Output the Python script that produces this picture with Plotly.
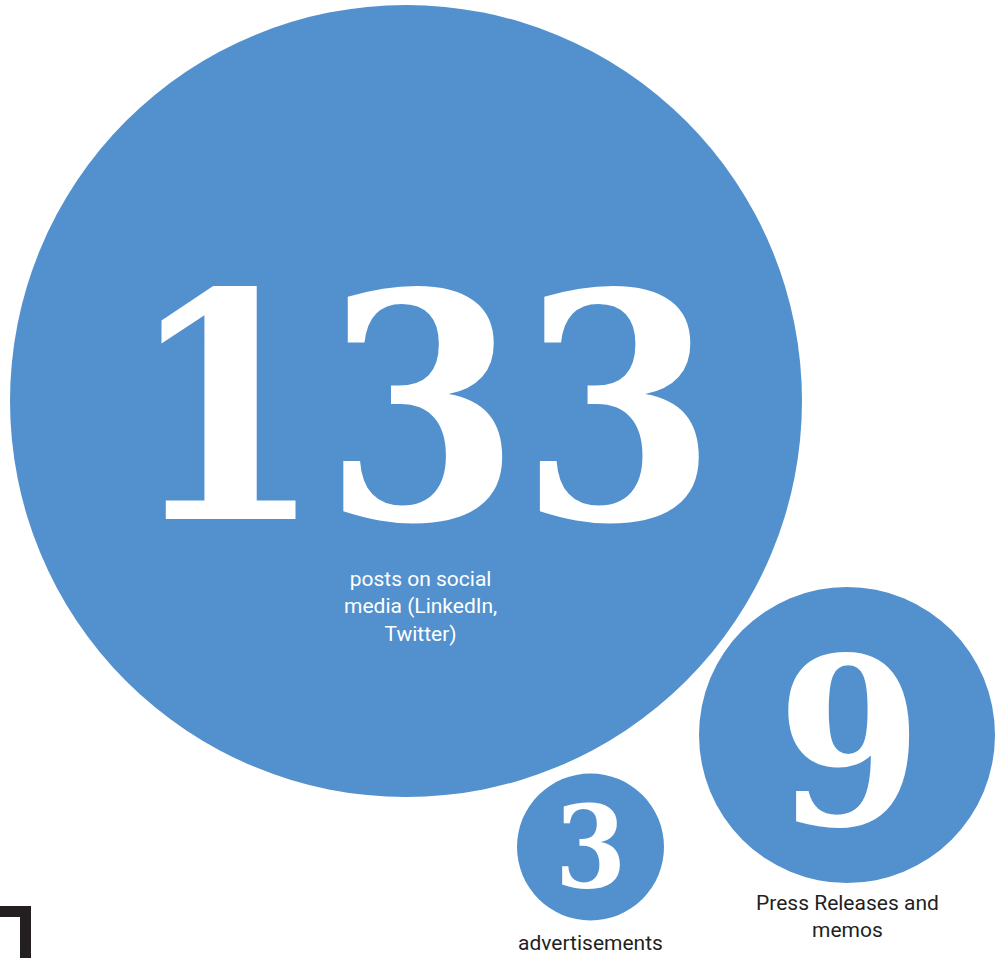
import plotly.graph_objects as go

# ---- data ----
values = [133, 3, 9]
labels = ["posts on social<br>media (LinkedIn,<br>Twitter)", "advertisements", "Press Releases and<br>memos"]

# ---- layout / style constants (pixel coordinates) ----
W, H = 997, 958
cx = [406, 590.5, 847]
cy = [401, 847, 735]
diam = [792, 147, 296]
num_font = [314, 114, 232]
num_dy = [7, 0, 8]
num_dx = [16, 0, 2]
lab_x = [420, 590.5, 847]
lab_y = [606, 943, 916]
lab_color = ["#ffffff", "#231f20", "#231f20"]
BLUE = "#5291cd"

fig = go.Figure()
fig.add_trace(go.Scatter(
    x=cx, y=cy, mode="markers",
    marker=dict(size=diam, sizemode="diameter", color=BLUE, line=dict(width=0), opacity=1),
    hoverinfo="skip", showlegend=False))

for i, v in enumerate(values):
    fig.add_annotation(x=cx[i] + num_dx[i], y=cy[i] + num_dy[i], text=str(v), showarrow=False,
                       font=dict(family="DejaVu Serif Condensed, DejaVu Serif", size=num_font[i],
                                 color="white", weight="bold"),
                       xanchor="center", yanchor="middle")
    fig.add_annotation(x=lab_x[i], y=lab_y[i], text=labels[i], showarrow=False,
                       font=dict(family="Roboto", size=21, color=lab_color[i]),
                       xanchor="center", yanchor="middle", align="center")

fig.add_shape(type="path", path="M 0 906 L 31 906 L 31 958 L 20 958 L 20 917 L 0 917 Z",
              fillcolor="#231f20", line=dict(width=0), xref="x", yref="y")

fig.update_layout(
    width=W, height=H, margin=dict(l=0, r=0, t=0, b=0),
    paper_bgcolor="white", plot_bgcolor="white",
    xaxis=dict(range=[0, W], visible=False, fixedrange=True),
    yaxis=dict(range=[H, 0], visible=False, fixedrange=True),
)
fig.write_html("out.html")
